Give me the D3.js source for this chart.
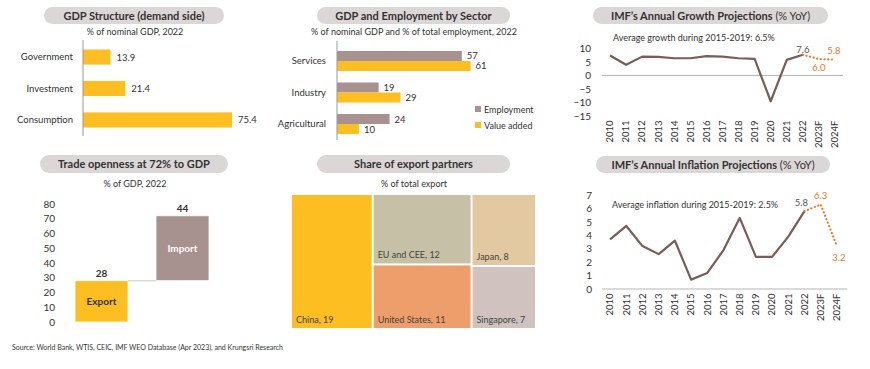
<!DOCTYPE html>
<html><head><meta charset="utf-8">
<script src="https://cdn.jsdelivr.net/npm/d3@7/dist/d3.min.js"></script>
<style>
body{margin:0;background:#fff;}
svg text{font-family:Lato,"Open Sans",sans-serif;fill:#333;}
</style></head>
<body><svg id="c" width="870" height="369"></svg>
<script>
// ---------------- DATA ----------------
const demandCats = ["Government", "Investment", "Consumption"];
const demandVals = [13.9, 21.4, 75.4];

const sectorCats = ["Services", "Industry", "Agricultural"];
const employmentVals = [57, 19, 24];
const valueAddedVals = [61, 29, 10];
const sectorSeries = ["Employment", "Value added"];

const tradeCats = ["Export", "Import"];
const tradeVals = [28, 44];
const tradeTicks = [0, 10, 20, 30, 40, 50, 60, 70, 80];

const partnerNames = ["China", "EU and CEE", "United States", "Japan", "Singapore"];
const partnerVals = [19, 12, 11, 8, 7];
const partnerGroup = [0, 1, 1, 2, 2];

const years = ["2010","2011","2012","2013","2014","2015","2016","2017","2018","2019","2020","2021","2022","2023F","2024F"];
const growthVals = [7.3, 3.9, 6.9, 6.8, 6.3, 6.3, 7.1, 6.9, 6.3, 6.1, -9.5, 5.7, 7.6, 6.0, 5.8];
const growthTicks = [-15, -10, -5, 0, 5, 10];
const inflationVals = [3.7, 4.7, 3.2, 2.6, 3.6, 0.7, 1.2, 2.9, 5.3, 2.4, 2.4, 3.9, 5.8, 6.3, 3.2];
const inflationTicks = [0, 1, 2, 3, 4, 5, 6, 7];
const forecastStart = 12; // index of 2022, last actual

// ---------------- STYLE ----------------
const GOLD = "#FDBE21", MAUVE = "#A8928F", BROWN = "#7A5D56", ORANGE = "#E5792A";
const PILL = "#DCD7D7";
const partnerColors = ["#FDBE21", "#C6C1A6", "#EE9E6A", "#E2C9A2", "#CFC2BF"];

const svg = d3.select("#c");

function pill(cx, y, w, h, parts) {
  svg.append("rect").attr("x", cx - w/2).attr("y", y).attr("width", w).attr("height", h)
    .attr("rx", h/2).attr("fill", PILL);
  const t = svg.append("text").attr("x", cx).attr("y", y + h/2 + 4).attr("text-anchor", "middle")
    .attr("font-size", 11);
  parts.forEach(p => t.append("tspan").attr("font-weight", p[1] ? "bold" : "normal").text(p[0]));
}
function subtitle(cx, y, s) {
  svg.append("text").attr("x", cx).attr("y", y).attr("text-anchor", "middle").attr("font-size", 9).text(s);
}

// ========== Panel 1: GDP Structure ==========
pill(134, 7, 180, 17, [["GDP Structure (demand side)", true]]);
subtitle(135, 34.5, "% of nominal GDP, 2022");
{
  const x = d3.scaleLinear().domain([0, 80]).range([83, 83 + 80 * 1.977]);
  const y = d3.scaleBand().domain(demandCats).range([41, 136]).paddingInner(0.52).paddingOuter(0.27);
  const g = svg.append("g");
  g.selectAll("rect").data(demandCats).join("rect")
    .attr("x", x(0)).attr("y", d => y(d)).attr("height", y.bandwidth())
    .attr("width", (d, i) => x(demandVals[i]) - x(0)).attr("fill", GOLD);
  g.selectAll("text.v").data(demandCats).join("text").attr("class", "v")
    .attr("x", (d, i) => x(demandVals[i]) + 6).attr("y", d => y(d) + y.bandwidth()/2 + 3.5)
    .attr("font-size", 9.5).text((d, i) => demandVals[i].toFixed(1));
  const ax = svg.append("g").attr("transform", `translate(${x(0)},0)`)
    .call(d3.axisLeft(y).tickSize(0).tickPadding(10));
  ax.select(".domain").attr("stroke", "#999").attr("d", "M0,40V136");
  ax.selectAll("text").attr("font-size", 9.5).style("font-family", "Lato").attr("fill", "#333");
}

// ========== Panel 2: GDP and Employment by Sector ==========
pill(413.5, 7, 193, 17, [["GDP and Employment by Sector", true]]);
subtitle(414, 35, "% of nominal GDP and % of total employment, 2022");
{
  const x = d3.scaleLinear().domain([0, 70]).range([337, 337 + 70 * 2.19]);
  const y = d3.scaleBand().domain(sectorCats).range([41, 144]).paddingInner(0.365).paddingOuter(0.317);
  const ys = d3.scaleBand().domain(sectorSeries).range([0, y.bandwidth()]);
  const cols = [MAUVE, GOLD];
  const vals = [employmentVals, valueAddedVals];
  sectorSeries.forEach((s, si) => {
    svg.append("g").selectAll("rect").data(sectorCats).join("rect")
      .attr("x", x(0)).attr("y", d => y(d) + ys(s)).attr("height", ys.bandwidth())
      .attr("width", (d, i) => x(vals[si][i]) - x(0)).attr("fill", cols[si]);
    svg.append("g").selectAll("text").data(sectorCats).join("text")
      .attr("x", (d, i) => x(vals[si][i]) + 5).attr("y", d => y(d) + ys(s) + ys.bandwidth()/2 + 3.5)
      .attr("font-size", 9.5).text((d, i) => vals[si][i]);
  });
  const ax = svg.append("g").attr("transform", `translate(${x(0)},0)`)
    .call(d3.axisLeft(y).tickSize(0).tickPadding(11));
  ax.select(".domain").attr("stroke", "#999").attr("d", "M0,41V140");
  ax.selectAll("text").attr("font-size", 9.5).style("font-family", "Lato").attr("fill", "#333");
  // legend
  const lg = svg.append("g");
  sectorSeries.forEach((s, i) => {
    lg.append("rect").attr("x", 475).attr("y", 106 + i * 16).attr("width", 6).attr("height", 6).attr("fill", cols[i]);
    lg.append("text").attr("x", 484).attr("y", 112.5 + i * 16).attr("font-size", 9).text(s);
  });
}

// ========== Line panels ==========
function linePanel(vals, ticks, yDomain, yRange, xRange, labelTop, opts) {
  const x = d3.scaleBand().domain(years).range(xRange);
  const y = d3.scaleLinear().domain(yDomain).range(yRange);
  const cx = d => x(d) + x.bandwidth()/2;
  svg.append("line").attr("x1", xRange[0]).attr("x2", xRange[1] + (opts.extra || 0))
    .attr("y1", y(0)).attr("y2", y(0)).attr("stroke", "#B5B5B5").attr("stroke-width", 1);
  const ay = svg.append("g").attr("transform", `translate(${xRange[0]},0)`)
    .call(d3.axisLeft(y).tickValues(ticks).tickFormat(d3.format("d")).tickSize(0).tickPadding(opts.tp));
  ay.select(".domain").remove();
  ay.selectAll("text").attr("font-size", 10).style("font-family", "Lato").attr("fill", "#333");
  const axg = svg.append("g").attr("transform", `translate(0,${labelTop})`)
    .call(d3.axisBottom(x).tickSize(0));
  axg.select(".domain").remove();
  axg.selectAll("text").attr("transform", "rotate(-90)").attr("text-anchor", "end")
    .attr("x", -0.5).attr("y", 0).attr("dy", "0.35em").attr("font-size", 9.5)
    .style("font-family", "Lato").attr("fill", "#333");
  const line = d3.line().x((d, i) => cx(years[i])).y(d => y(d));
  const actual = vals.slice(0, forecastStart + 1);
  svg.append("path").attr("d", line(actual)).attr("fill", "none").attr("stroke", BROWN)
    .attr("stroke-width", 2.2).attr("stroke-linejoin", "round");
  const fl = d3.line().x((d, i) => cx(years[i + forecastStart])).y(d => y(d));
  svg.append("path").attr("d", fl(vals.slice(forecastStart))).attr("fill", "none").attr("stroke", ORANGE)
    .attr("stroke-width", 2.2).attr("stroke-dasharray", "0.1,3.6").attr("stroke-linecap", "round");
  return {x, y, cx};
}

pill(710.5, 7, 235, 17, [["IMF\u2019s Annual Growth Projections", true], [" (% YoY)", false]]);
{
  const p = linePanel(growthVals, growthTicks, [-15, 10], [116.2, 48.2], [602, 843], 120, {tp: 11});
  svg.append("text").attr("x", 613).attr("y", 41).attr("font-size", 9).text("Average growth during 2015-2019: " + "6.5%");
  svg.append("text").attr("x", p.cx("2022")).attr("y", 53).attr("text-anchor", "middle").attr("font-size", 9.5)
    .attr("fill", "#555").style("fill", "#555").text(growthVals[12].toFixed(1));
  svg.append("text").attr("x", p.cx("2023F")).attr("y", 71).attr("text-anchor", "middle").attr("font-size", 9.5)
    .style("fill", ORANGE).text(growthVals[13].toFixed(1));
  svg.append("text").attr("x", p.cx("2024F") - 1).attr("y", 54).attr("text-anchor", "middle").attr("font-size", 9.5)
    .style("fill", ORANGE).text(growthVals[14].toFixed(1));
}

// ========== Panel 4: Trade openness ==========
pill(134, 155, 188, 18, [["Trade openness at 72% to GDP", true]]);
subtitle(135, 186.5, "% of GDP, 2022");
{
  const y = d3.scaleLinear().domain([0, 80]).range([322, 204]);
  const x = d3.scaleBand().domain(tradeCats).range([60, 224]).paddingInner(0.346).paddingOuter(0.185);
  const base = [0, tradeVals[0]];
  const cols = [GOLD, MAUVE];
  svg.append("g").selectAll("rect").data(tradeCats).join("rect")
    .attr("x", d => x(d)).attr("width", x.bandwidth())
    .attr("y", (d, i) => y(base[i] + tradeVals[i])).attr("height", (d, i) => y(base[i]) - y(base[i] + tradeVals[i]))
    .attr("fill", (d, i) => cols[i]).attr("stroke", "#fff").attr("stroke-width", 0.8);
  svg.append("line").attr("x1", x("Export") + x.bandwidth()).attr("x2", x("Import"))
    .attr("y1", y(tradeVals[0])).attr("y2", y(tradeVals[0])).attr("stroke", "#D9D9D9").attr("stroke-width", 1.5);
  svg.append("g").selectAll("text").data(tradeCats).join("text")
    .attr("x", d => x(d) + x.bandwidth()/2).attr("y", (d, i) => y(base[i] + tradeVals[i]) - 4)
    .attr("text-anchor", "middle").attr("font-size", 10).attr("font-weight", "bold").text((d, i) => tradeVals[i]);
  svg.append("g").selectAll("text").data(tradeCats).join("text")
    .attr("x", d => x(d) + x.bandwidth()/2).attr("y", (d, i) => (y(base[i]) + y(base[i] + tradeVals[i]))/2 + 3.5)
    .attr("text-anchor", "middle").attr("font-size", 10).attr("font-weight", "bold")
    .style("fill", (d, i) => i === 0 ? "#333" : "#fff").text(d => d);
  const ay = svg.append("g").attr("transform", "translate(57,0)")
    .call(d3.axisLeft(y).tickValues(tradeTicks).tickSize(0).tickPadding(2));
  ay.select(".domain").remove();
  ay.selectAll("text").attr("font-size", 10).style("font-family", "Lato").attr("fill", "#333");
}

// ========== Panel 5: Treemap ==========
pill(413.5, 155, 193, 18, [["Share of export partners", true]]);
subtitle(414, 186.5, "% of total export");
{
  const groups = d3.groups(partnerNames.map((n, i) => ({name: n, value: partnerVals[i], color: partnerColors[i], g: partnerGroup[i]})), d => d.g)
    .map(([k, arr]) => ({name: "g" + k, children: arr}));
  const root = d3.hierarchy({name: "root", children: groups}).sum(d => d.value || 0);
  d3.treemap().tile(d3.treemapSliceDice).size([243, 133]).paddingInner(2)(root);
  const g = svg.append("g").attr("transform", "translate(292,195)");
  const leaves = g.selectAll("g").data(root.leaves()).join("g").attr("transform", d => `translate(${d.x0},${d.y0})`);
  leaves.append("rect").attr("width", d => d.x1 - d.x0).attr("height", d => d.y1 - d.y0)
    .attr("fill", d => d.data.color);
  leaves.append("text").attr("x", 4).attr("y", d => d.y1 - d.y0 - 5).attr("font-size", 9)
    .style("fill", "#444").text(d => d.data.name + ", " + d.data.value);
}

// ========== Panel 6: Inflation ==========
pill(713, 156, 234, 17, [["IMF\u2019s Annual Inflation Projections", true], [" (% YoY)", false]]);
{
  const p = linePanel(inflationVals, inflationTicks, [0, 7], [289, 195.1], [602, 845], 293, {tp: 10, extra: 2});
  svg.append("text").attr("x", 612).attr("y", 208).attr("font-size", 9).text("Average inflation during 2015-2019: " + "2.5%");
  svg.append("text").attr("x", p.cx("2022") - 3).attr("y", 206).attr("text-anchor", "middle").attr("font-size", 9.5)
    .style("fill", "#555").text(inflationVals[12].toFixed(1));
  svg.append("text").attr("x", p.cx("2023F")).attr("y", 199).attr("text-anchor", "middle").attr("font-size", 9.5)
    .style("fill", ORANGE).text(inflationVals[13].toFixed(1));
  svg.append("text").attr("x", p.cx("2024F") + 2).attr("y", 261).attr("text-anchor", "middle").attr("font-size", 9.5)
    .style("fill", ORANGE).text(inflationVals[14].toFixed(1));
}

// Source
svg.append("text").attr("x", 12).attr("y", 350).attr("font-size", 7).style("fill", "#333")
  .text("Source: World Bank, WTIS, CEIC, IMF WEO Database (Apr 2023), and Krungsri Research");
</script>
</body></html>
